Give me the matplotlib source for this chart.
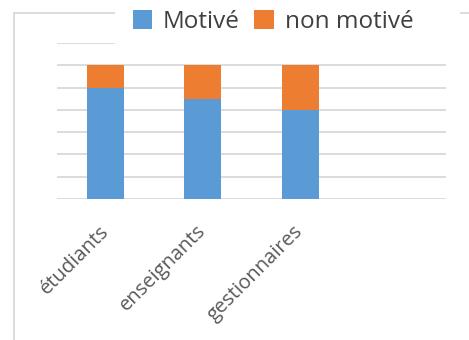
import numpy as np
import matplotlib.pyplot as plt
import matplotlib.transforms as mtransforms
from matplotlib.lines import Line2D
from matplotlib.patches import Rectangle

# groupes interrogés (le 4e emplacement reste vide)
groupes = ['étudiants', 'enseignants', 'gestionnaires', '']
motive = [25, 22.5, 20, 0]
non_motive = [5, 7.5, 10, 0]

bleu = '#5B9BD5'
orange = '#ED7D31'
gris_grille = '#D9D9D9'

plt.rcParams['font.family'] = ['Open Sans', 'DejaVu Sans']

fig = plt.figure(figsize=(4.69, 3.40), dpi=100)
ax = fig.add_axes([57/469, 141/340, 389/469, 156/340])

x = np.arange(len(groupes))
ax.bar(x, motive, width=0.38, color=bleu, label='Motivé', zorder=3)
ax.bar(x, non_motive, width=0.38, bottom=motive, color=orange,
       label='non motivé', zorder=3)

ax.set_xlim(-0.5, len(groupes) - 0.5)
ax.set_ylim(0, 35)
ax.set_yticks(np.arange(0, 36, 5))
ax.yaxis.grid(True, color=gris_grille, linewidth=1.3, zorder=0)
ax.tick_params(axis='y', length=0, labelleft=False)
ax.tick_params(axis='x', length=0, pad=16)
for s in ax.spines.values():
    s.set_visible(False)

ax.set_xticks(x)
ax.set_xticklabels(groupes, rotation=45, ha='right', va='top',
                   rotation_mode='anchor', fontsize=14.5, color='#595959')
# petit décalage à gauche des étiquettes inclinées
decalage = mtransforms.ScaledTranslation(-7/100, 0, fig.dpi_scale_trans)
for lab in ax.get_xticklabels():
    lab.set_transform(lab.get_transform() + decalage)

# cadre extérieur du graphique
fig.add_artist(Line2D([14/469, 14/469], [0, 1 - 13/340], color=gris_grille, lw=1.3))
fig.add_artist(Line2D([14/469, 1], [1 - 13/340, 1 - 13/340], color=gris_grille, lw=1.3))

# fond blanc derrière la légende
fig.add_artist(Rectangle((115/469, 1 - 46/340), 345/469, 46/340,
                         transform=fig.transFigure, facecolor='white',
                         edgecolor='none', zorder=5))
leg = fig.legend(loc='center', bbox_to_anchor=(273/469, 1 - 22/340), ncol=2,
                 frameon=False, fontsize=17.5, handlelength=0.8, handleheight=0.8,
                 handletextpad=0.45, columnspacing=0.6)
leg.set_zorder(6)
for t in leg.get_texts():
    t.set_color('#404040')

fig.savefig('out.png', dpi=100)
